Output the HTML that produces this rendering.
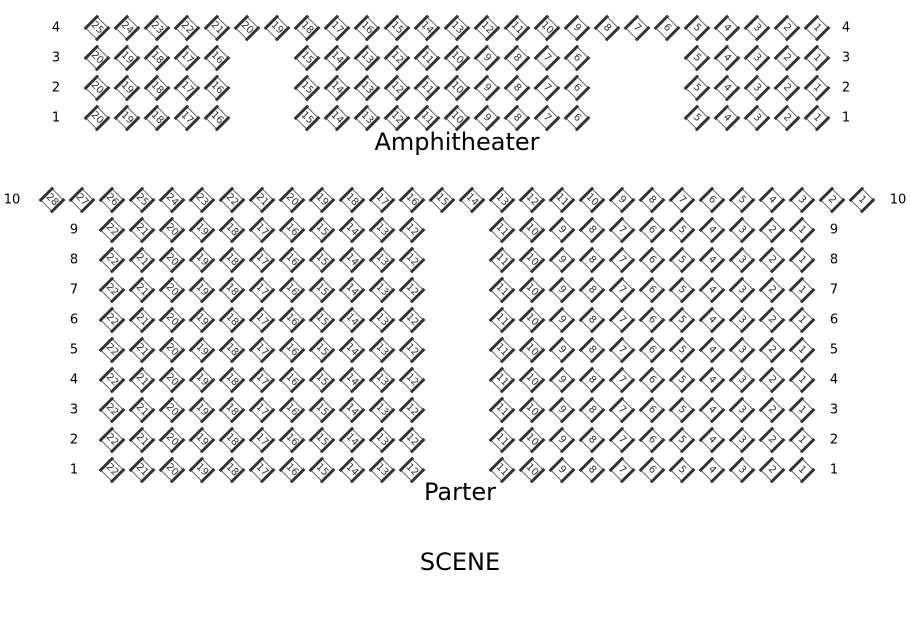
<!DOCTYPE html>
<html><head><meta charset="utf-8"><style>
body{margin:0;background:#fff}
svg{display:block;font-family:"DejaVu Sans","Liberation Sans",sans-serif}
.s text{font-size:10px;fill:#333;text-anchor:middle;dominant-baseline:central}
.l{font-size:13px;fill:#000;text-anchor:middle;dominant-baseline:central}
.t{font-size:24px;fill:#000;text-anchor:middle}
</style></head><body>
<svg width="910" height="640" viewBox="0 0 910 640" xmlns="http://www.w3.org/2000/svg">
<defs><g id="s"><rect x="-8" y="-8" width="16" height="16" fill="#fff" stroke="#444" stroke-width="0.8"/><line x1="-8" y1="-9.5" x2="-8" y2="9.5" stroke="#333" stroke-width="3"/><line x1="8" y1="-9.5" x2="8" y2="9.5" stroke="#333" stroke-width="3"/></g></defs>

<g class="l">
<text x="56" y="28">4</text><text x="56" y="58">3</text><text x="56" y="88">2</text><text x="56" y="118">1</text>
<text x="846" y="28">4</text><text x="846" y="58">3</text><text x="846" y="88">2</text><text x="846" y="118">1</text>
<text x="12" y="200">10</text><text x="898" y="200">10</text>
<text x="74" y="230">9</text><text x="74" y="260">8</text><text x="74" y="290">7</text><text x="74" y="320">6</text><text x="74" y="350">5</text><text x="74" y="380">4</text><text x="74" y="410">3</text><text x="74" y="440">2</text><text x="74" y="470">1</text>
<text x="834" y="230">9</text><text x="834" y="260">8</text><text x="834" y="290">7</text><text x="834" y="320">6</text><text x="834" y="350">5</text><text x="834" y="380">4</text><text x="834" y="410">3</text><text x="834" y="440">2</text><text x="834" y="470">1</text>
</g>

<text class="t" x="457" y="150">Amphitheater</text>
<text class="t" x="460" y="500">Parter</text>
<text class="t" x="460" y="570">SCENE</text>

<g class="s" transform="translate(0,28)">
<g transform="translate(817,0)rotate(45)"><use href="#s"/><text>1</text></g>
<g transform="translate(787,0)rotate(45)"><use href="#s"/><text>2</text></g>
<g transform="translate(757,0)rotate(45)"><use href="#s"/><text>3</text></g>
<g transform="translate(727,0)rotate(45)"><use href="#s"/><text>4</text></g>
<g transform="translate(697,0)rotate(45)"><use href="#s"/><text>5</text></g>
<g transform="translate(667,0)rotate(45)"><use href="#s"/><text>6</text></g>
<g transform="translate(637,0)rotate(45)"><use href="#s"/><text>7</text></g>
<g transform="translate(607,0)rotate(45)"><use href="#s"/><text>8</text></g>
<g transform="translate(577,0)rotate(45)"><use href="#s"/><text>9</text></g>
<g transform="translate(547,0)rotate(45)"><use href="#s"/><text>10</text></g>
<g transform="translate(517,0)rotate(45)"><use href="#s"/><text>11</text></g>
<g transform="translate(487,0)rotate(45)"><use href="#s"/><text>12</text></g>
<g transform="translate(457,0)rotate(45)"><use href="#s"/><text>13</text></g>
<g transform="translate(427,0)rotate(45)"><use href="#s"/><text>14</text></g>
<g transform="translate(397,0)rotate(45)"><use href="#s"/><text>15</text></g>
<g transform="translate(367,0)rotate(45)"><use href="#s"/><text>16</text></g>
<g transform="translate(337,0)rotate(45)"><use href="#s"/><text>17</text></g>
<g transform="translate(307,0)rotate(45)"><use href="#s"/><text>18</text></g>
<g transform="translate(277,0)rotate(45)"><use href="#s"/><text>19</text></g>
<g transform="translate(247,0)rotate(45)"><use href="#s"/><text>20</text></g>
<g transform="translate(217,0)rotate(45)"><use href="#s"/><text>21</text></g>
<g transform="translate(187,0)rotate(45)"><use href="#s"/><text>22</text></g>
<g transform="translate(157,0)rotate(45)"><use href="#s"/><text>23</text></g>
<g transform="translate(127,0)rotate(45)"><use href="#s"/><text>24</text></g>
<g transform="translate(97,0)rotate(45)"><use href="#s"/><text>25</text></g>
</g>

<g class="s" transform="translate(0,58)">
<g transform="translate(817,0)rotate(45)"><use href="#s"/><text>1</text></g>
<g transform="translate(787,0)rotate(45)"><use href="#s"/><text>2</text></g>
<g transform="translate(757,0)rotate(45)"><use href="#s"/><text>3</text></g>
<g transform="translate(727,0)rotate(45)"><use href="#s"/><text>4</text></g>
<g transform="translate(697,0)rotate(45)"><use href="#s"/><text>5</text></g>
<g transform="translate(577,0)rotate(45)"><use href="#s"/><text>6</text></g>
<g transform="translate(547,0)rotate(45)"><use href="#s"/><text>7</text></g>
<g transform="translate(517,0)rotate(45)"><use href="#s"/><text>8</text></g>
<g transform="translate(487,0)rotate(45)"><use href="#s"/><text>9</text></g>
<g transform="translate(457,0)rotate(45)"><use href="#s"/><text>10</text></g>
<g transform="translate(427,0)rotate(45)"><use href="#s"/><text>11</text></g>
<g transform="translate(397,0)rotate(45)"><use href="#s"/><text>12</text></g>
<g transform="translate(367,0)rotate(45)"><use href="#s"/><text>13</text></g>
<g transform="translate(337,0)rotate(45)"><use href="#s"/><text>14</text></g>
<g transform="translate(307,0)rotate(45)"><use href="#s"/><text>15</text></g>
<g transform="translate(217,0)rotate(45)"><use href="#s"/><text>16</text></g>
<g transform="translate(187,0)rotate(45)"><use href="#s"/><text>17</text></g>
<g transform="translate(157,0)rotate(45)"><use href="#s"/><text>18</text></g>
<g transform="translate(127,0)rotate(45)"><use href="#s"/><text>19</text></g>
<g transform="translate(97,0)rotate(45)"><use href="#s"/><text>20</text></g>
</g>
<g class="s" transform="translate(0,88)">
<g transform="translate(817,0)rotate(45)"><use href="#s"/><text>1</text></g>
<g transform="translate(787,0)rotate(45)"><use href="#s"/><text>2</text></g>
<g transform="translate(757,0)rotate(45)"><use href="#s"/><text>3</text></g>
<g transform="translate(727,0)rotate(45)"><use href="#s"/><text>4</text></g>
<g transform="translate(697,0)rotate(45)"><use href="#s"/><text>5</text></g>
<g transform="translate(577,0)rotate(45)"><use href="#s"/><text>6</text></g>
<g transform="translate(547,0)rotate(45)"><use href="#s"/><text>7</text></g>
<g transform="translate(517,0)rotate(45)"><use href="#s"/><text>8</text></g>
<g transform="translate(487,0)rotate(45)"><use href="#s"/><text>9</text></g>
<g transform="translate(457,0)rotate(45)"><use href="#s"/><text>10</text></g>
<g transform="translate(427,0)rotate(45)"><use href="#s"/><text>11</text></g>
<g transform="translate(397,0)rotate(45)"><use href="#s"/><text>12</text></g>
<g transform="translate(367,0)rotate(45)"><use href="#s"/><text>13</text></g>
<g transform="translate(337,0)rotate(45)"><use href="#s"/><text>14</text></g>
<g transform="translate(307,0)rotate(45)"><use href="#s"/><text>15</text></g>
<g transform="translate(217,0)rotate(45)"><use href="#s"/><text>16</text></g>
<g transform="translate(187,0)rotate(45)"><use href="#s"/><text>17</text></g>
<g transform="translate(157,0)rotate(45)"><use href="#s"/><text>18</text></g>
<g transform="translate(127,0)rotate(45)"><use href="#s"/><text>19</text></g>
<g transform="translate(97,0)rotate(45)"><use href="#s"/><text>20</text></g>
</g>
<g class="s" transform="translate(0,118)">
<g transform="translate(817,0)rotate(45)"><use href="#s"/><text>1</text></g>
<g transform="translate(787,0)rotate(45)"><use href="#s"/><text>2</text></g>
<g transform="translate(757,0)rotate(45)"><use href="#s"/><text>3</text></g>
<g transform="translate(727,0)rotate(45)"><use href="#s"/><text>4</text></g>
<g transform="translate(697,0)rotate(45)"><use href="#s"/><text>5</text></g>
<g transform="translate(577,0)rotate(45)"><use href="#s"/><text>6</text></g>
<g transform="translate(547,0)rotate(45)"><use href="#s"/><text>7</text></g>
<g transform="translate(517,0)rotate(45)"><use href="#s"/><text>8</text></g>
<g transform="translate(487,0)rotate(45)"><use href="#s"/><text>9</text></g>
<g transform="translate(457,0)rotate(45)"><use href="#s"/><text>10</text></g>
<g transform="translate(427,0)rotate(45)"><use href="#s"/><text>11</text></g>
<g transform="translate(397,0)rotate(45)"><use href="#s"/><text>12</text></g>
<g transform="translate(367,0)rotate(45)"><use href="#s"/><text>13</text></g>
<g transform="translate(337,0)rotate(45)"><use href="#s"/><text>14</text></g>
<g transform="translate(307,0)rotate(45)"><use href="#s"/><text>15</text></g>
<g transform="translate(217,0)rotate(45)"><use href="#s"/><text>16</text></g>
<g transform="translate(187,0)rotate(45)"><use href="#s"/><text>17</text></g>
<g transform="translate(157,0)rotate(45)"><use href="#s"/><text>18</text></g>
<g transform="translate(127,0)rotate(45)"><use href="#s"/><text>19</text></g>
<g transform="translate(97,0)rotate(45)"><use href="#s"/><text>20</text></g>
</g>

<g class="s" transform="translate(0,200)">
<g transform="translate(862,0)rotate(45)"><use href="#s"/><text>1</text></g>
<g transform="translate(832,0)rotate(45)"><use href="#s"/><text>2</text></g>
<g transform="translate(802,0)rotate(45)"><use href="#s"/><text>3</text></g>
<g transform="translate(772,0)rotate(45)"><use href="#s"/><text>4</text></g>
<g transform="translate(742,0)rotate(45)"><use href="#s"/><text>5</text></g>
<g transform="translate(712,0)rotate(45)"><use href="#s"/><text>6</text></g>
<g transform="translate(682,0)rotate(45)"><use href="#s"/><text>7</text></g>
<g transform="translate(652,0)rotate(45)"><use href="#s"/><text>8</text></g>
<g transform="translate(622,0)rotate(45)"><use href="#s"/><text>9</text></g>
<g transform="translate(592,0)rotate(45)"><use href="#s"/><text>10</text></g>
<g transform="translate(562,0)rotate(45)"><use href="#s"/><text>11</text></g>
<g transform="translate(532,0)rotate(45)"><use href="#s"/><text>12</text></g>
<g transform="translate(502,0)rotate(45)"><use href="#s"/><text>13</text></g>
<g transform="translate(472,0)rotate(45)"><use href="#s"/><text>14</text></g>
<g transform="translate(442,0)rotate(45)"><use href="#s"/><text>15</text></g>
<g transform="translate(412,0)rotate(45)"><use href="#s"/><text>16</text></g>
<g transform="translate(382,0)rotate(45)"><use href="#s"/><text>17</text></g>
<g transform="translate(352,0)rotate(45)"><use href="#s"/><text>18</text></g>
<g transform="translate(322,0)rotate(45)"><use href="#s"/><text>19</text></g>
<g transform="translate(292,0)rotate(45)"><use href="#s"/><text>20</text></g>
<g transform="translate(262,0)rotate(45)"><use href="#s"/><text>21</text></g>
<g transform="translate(232,0)rotate(45)"><use href="#s"/><text>22</text></g>
<g transform="translate(202,0)rotate(45)"><use href="#s"/><text>23</text></g>
<g transform="translate(172,0)rotate(45)"><use href="#s"/><text>24</text></g>
<g transform="translate(142,0)rotate(45)"><use href="#s"/><text>25</text></g>
<g transform="translate(112,0)rotate(45)"><use href="#s"/><text>26</text></g>
<g transform="translate(82,0)rotate(45)"><use href="#s"/><text>27</text></g>
<g transform="translate(52,0)rotate(45)"><use href="#s"/><text>28</text></g>
</g>

<g class="s" transform="translate(0,230)">
<g transform="translate(802,0)rotate(45)"><use href="#s"/><text>1</text></g>
<g transform="translate(772,0)rotate(45)"><use href="#s"/><text>2</text></g>
<g transform="translate(742,0)rotate(45)"><use href="#s"/><text>3</text></g>
<g transform="translate(712,0)rotate(45)"><use href="#s"/><text>4</text></g>
<g transform="translate(682,0)rotate(45)"><use href="#s"/><text>5</text></g>
<g transform="translate(652,0)rotate(45)"><use href="#s"/><text>6</text></g>
<g transform="translate(622,0)rotate(45)"><use href="#s"/><text>7</text></g>
<g transform="translate(592,0)rotate(45)"><use href="#s"/><text>8</text></g>
<g transform="translate(562,0)rotate(45)"><use href="#s"/><text>9</text></g>
<g transform="translate(532,0)rotate(45)"><use href="#s"/><text>10</text></g>
<g transform="translate(502,0)rotate(45)"><use href="#s"/><text>11</text></g>
<g transform="translate(412,0)rotate(45)"><use href="#s"/><text>12</text></g>
<g transform="translate(382,0)rotate(45)"><use href="#s"/><text>13</text></g>
<g transform="translate(352,0)rotate(45)"><use href="#s"/><text>14</text></g>
<g transform="translate(322,0)rotate(45)"><use href="#s"/><text>15</text></g>
<g transform="translate(292,0)rotate(45)"><use href="#s"/><text>16</text></g>
<g transform="translate(262,0)rotate(45)"><use href="#s"/><text>17</text></g>
<g transform="translate(232,0)rotate(45)"><use href="#s"/><text>18</text></g>
<g transform="translate(202,0)rotate(45)"><use href="#s"/><text>19</text></g>
<g transform="translate(172,0)rotate(45)"><use href="#s"/><text>20</text></g>
<g transform="translate(142,0)rotate(45)"><use href="#s"/><text>21</text></g>
<g transform="translate(112,0)rotate(45)"><use href="#s"/><text>22</text></g>
</g>
<g class="s" transform="translate(0,260)">
<g transform="translate(802,0)rotate(45)"><use href="#s"/><text>1</text></g>
<g transform="translate(772,0)rotate(45)"><use href="#s"/><text>2</text></g>
<g transform="translate(742,0)rotate(45)"><use href="#s"/><text>3</text></g>
<g transform="translate(712,0)rotate(45)"><use href="#s"/><text>4</text></g>
<g transform="translate(682,0)rotate(45)"><use href="#s"/><text>5</text></g>
<g transform="translate(652,0)rotate(45)"><use href="#s"/><text>6</text></g>
<g transform="translate(622,0)rotate(45)"><use href="#s"/><text>7</text></g>
<g transform="translate(592,0)rotate(45)"><use href="#s"/><text>8</text></g>
<g transform="translate(562,0)rotate(45)"><use href="#s"/><text>9</text></g>
<g transform="translate(532,0)rotate(45)"><use href="#s"/><text>10</text></g>
<g transform="translate(502,0)rotate(45)"><use href="#s"/><text>11</text></g>
<g transform="translate(412,0)rotate(45)"><use href="#s"/><text>12</text></g>
<g transform="translate(382,0)rotate(45)"><use href="#s"/><text>13</text></g>
<g transform="translate(352,0)rotate(45)"><use href="#s"/><text>14</text></g>
<g transform="translate(322,0)rotate(45)"><use href="#s"/><text>15</text></g>
<g transform="translate(292,0)rotate(45)"><use href="#s"/><text>16</text></g>
<g transform="translate(262,0)rotate(45)"><use href="#s"/><text>17</text></g>
<g transform="translate(232,0)rotate(45)"><use href="#s"/><text>18</text></g>
<g transform="translate(202,0)rotate(45)"><use href="#s"/><text>19</text></g>
<g transform="translate(172,0)rotate(45)"><use href="#s"/><text>20</text></g>
<g transform="translate(142,0)rotate(45)"><use href="#s"/><text>21</text></g>
<g transform="translate(112,0)rotate(45)"><use href="#s"/><text>22</text></g>
</g>
<g class="s" transform="translate(0,290)">
<g transform="translate(802,0)rotate(45)"><use href="#s"/><text>1</text></g>
<g transform="translate(772,0)rotate(45)"><use href="#s"/><text>2</text></g>
<g transform="translate(742,0)rotate(45)"><use href="#s"/><text>3</text></g>
<g transform="translate(712,0)rotate(45)"><use href="#s"/><text>4</text></g>
<g transform="translate(682,0)rotate(45)"><use href="#s"/><text>5</text></g>
<g transform="translate(652,0)rotate(45)"><use href="#s"/><text>6</text></g>
<g transform="translate(622,0)rotate(45)"><use href="#s"/><text>7</text></g>
<g transform="translate(592,0)rotate(45)"><use href="#s"/><text>8</text></g>
<g transform="translate(562,0)rotate(45)"><use href="#s"/><text>9</text></g>
<g transform="translate(532,0)rotate(45)"><use href="#s"/><text>10</text></g>
<g transform="translate(502,0)rotate(45)"><use href="#s"/><text>11</text></g>
<g transform="translate(412,0)rotate(45)"><use href="#s"/><text>12</text></g>
<g transform="translate(382,0)rotate(45)"><use href="#s"/><text>13</text></g>
<g transform="translate(352,0)rotate(45)"><use href="#s"/><text>14</text></g>
<g transform="translate(322,0)rotate(45)"><use href="#s"/><text>15</text></g>
<g transform="translate(292,0)rotate(45)"><use href="#s"/><text>16</text></g>
<g transform="translate(262,0)rotate(45)"><use href="#s"/><text>17</text></g>
<g transform="translate(232,0)rotate(45)"><use href="#s"/><text>18</text></g>
<g transform="translate(202,0)rotate(45)"><use href="#s"/><text>19</text></g>
<g transform="translate(172,0)rotate(45)"><use href="#s"/><text>20</text></g>
<g transform="translate(142,0)rotate(45)"><use href="#s"/><text>21</text></g>
<g transform="translate(112,0)rotate(45)"><use href="#s"/><text>22</text></g>
</g>
<g class="s" transform="translate(0,320)">
<g transform="translate(802,0)rotate(45)"><use href="#s"/><text>1</text></g>
<g transform="translate(772,0)rotate(45)"><use href="#s"/><text>2</text></g>
<g transform="translate(742,0)rotate(45)"><use href="#s"/><text>3</text></g>
<g transform="translate(712,0)rotate(45)"><use href="#s"/><text>4</text></g>
<g transform="translate(682,0)rotate(45)"><use href="#s"/><text>5</text></g>
<g transform="translate(652,0)rotate(45)"><use href="#s"/><text>6</text></g>
<g transform="translate(622,0)rotate(45)"><use href="#s"/><text>7</text></g>
<g transform="translate(592,0)rotate(45)"><use href="#s"/><text>8</text></g>
<g transform="translate(562,0)rotate(45)"><use href="#s"/><text>9</text></g>
<g transform="translate(532,0)rotate(45)"><use href="#s"/><text>10</text></g>
<g transform="translate(502,0)rotate(45)"><use href="#s"/><text>11</text></g>
<g transform="translate(412,0)rotate(45)"><use href="#s"/><text>12</text></g>
<g transform="translate(382,0)rotate(45)"><use href="#s"/><text>13</text></g>
<g transform="translate(352,0)rotate(45)"><use href="#s"/><text>14</text></g>
<g transform="translate(322,0)rotate(45)"><use href="#s"/><text>15</text></g>
<g transform="translate(292,0)rotate(45)"><use href="#s"/><text>16</text></g>
<g transform="translate(262,0)rotate(45)"><use href="#s"/><text>17</text></g>
<g transform="translate(232,0)rotate(45)"><use href="#s"/><text>18</text></g>
<g transform="translate(202,0)rotate(45)"><use href="#s"/><text>19</text></g>
<g transform="translate(172,0)rotate(45)"><use href="#s"/><text>20</text></g>
<g transform="translate(142,0)rotate(45)"><use href="#s"/><text>21</text></g>
<g transform="translate(112,0)rotate(45)"><use href="#s"/><text>22</text></g>
</g>
<g class="s" transform="translate(0,350)">
<g transform="translate(802,0)rotate(45)"><use href="#s"/><text>1</text></g>
<g transform="translate(772,0)rotate(45)"><use href="#s"/><text>2</text></g>
<g transform="translate(742,0)rotate(45)"><use href="#s"/><text>3</text></g>
<g transform="translate(712,0)rotate(45)"><use href="#s"/><text>4</text></g>
<g transform="translate(682,0)rotate(45)"><use href="#s"/><text>5</text></g>
<g transform="translate(652,0)rotate(45)"><use href="#s"/><text>6</text></g>
<g transform="translate(622,0)rotate(45)"><use href="#s"/><text>7</text></g>
<g transform="translate(592,0)rotate(45)"><use href="#s"/><text>8</text></g>
<g transform="translate(562,0)rotate(45)"><use href="#s"/><text>9</text></g>
<g transform="translate(532,0)rotate(45)"><use href="#s"/><text>10</text></g>
<g transform="translate(502,0)rotate(45)"><use href="#s"/><text>11</text></g>
<g transform="translate(412,0)rotate(45)"><use href="#s"/><text>12</text></g>
<g transform="translate(382,0)rotate(45)"><use href="#s"/><text>13</text></g>
<g transform="translate(352,0)rotate(45)"><use href="#s"/><text>14</text></g>
<g transform="translate(322,0)rotate(45)"><use href="#s"/><text>15</text></g>
<g transform="translate(292,0)rotate(45)"><use href="#s"/><text>16</text></g>
<g transform="translate(262,0)rotate(45)"><use href="#s"/><text>17</text></g>
<g transform="translate(232,0)rotate(45)"><use href="#s"/><text>18</text></g>
<g transform="translate(202,0)rotate(45)"><use href="#s"/><text>19</text></g>
<g transform="translate(172,0)rotate(45)"><use href="#s"/><text>20</text></g>
<g transform="translate(142,0)rotate(45)"><use href="#s"/><text>21</text></g>
<g transform="translate(112,0)rotate(45)"><use href="#s"/><text>22</text></g>
</g>
<g class="s" transform="translate(0,380)">
<g transform="translate(802,0)rotate(45)"><use href="#s"/><text>1</text></g>
<g transform="translate(772,0)rotate(45)"><use href="#s"/><text>2</text></g>
<g transform="translate(742,0)rotate(45)"><use href="#s"/><text>3</text></g>
<g transform="translate(712,0)rotate(45)"><use href="#s"/><text>4</text></g>
<g transform="translate(682,0)rotate(45)"><use href="#s"/><text>5</text></g>
<g transform="translate(652,0)rotate(45)"><use href="#s"/><text>6</text></g>
<g transform="translate(622,0)rotate(45)"><use href="#s"/><text>7</text></g>
<g transform="translate(592,0)rotate(45)"><use href="#s"/><text>8</text></g>
<g transform="translate(562,0)rotate(45)"><use href="#s"/><text>9</text></g>
<g transform="translate(532,0)rotate(45)"><use href="#s"/><text>10</text></g>
<g transform="translate(502,0)rotate(45)"><use href="#s"/><text>11</text></g>
<g transform="translate(412,0)rotate(45)"><use href="#s"/><text>12</text></g>
<g transform="translate(382,0)rotate(45)"><use href="#s"/><text>13</text></g>
<g transform="translate(352,0)rotate(45)"><use href="#s"/><text>14</text></g>
<g transform="translate(322,0)rotate(45)"><use href="#s"/><text>15</text></g>
<g transform="translate(292,0)rotate(45)"><use href="#s"/><text>16</text></g>
<g transform="translate(262,0)rotate(45)"><use href="#s"/><text>17</text></g>
<g transform="translate(232,0)rotate(45)"><use href="#s"/><text>18</text></g>
<g transform="translate(202,0)rotate(45)"><use href="#s"/><text>19</text></g>
<g transform="translate(172,0)rotate(45)"><use href="#s"/><text>20</text></g>
<g transform="translate(142,0)rotate(45)"><use href="#s"/><text>21</text></g>
<g transform="translate(112,0)rotate(45)"><use href="#s"/><text>22</text></g>
</g>
<g class="s" transform="translate(0,410)">
<g transform="translate(802,0)rotate(45)"><use href="#s"/><text>1</text></g>
<g transform="translate(772,0)rotate(45)"><use href="#s"/><text>2</text></g>
<g transform="translate(742,0)rotate(45)"><use href="#s"/><text>3</text></g>
<g transform="translate(712,0)rotate(45)"><use href="#s"/><text>4</text></g>
<g transform="translate(682,0)rotate(45)"><use href="#s"/><text>5</text></g>
<g transform="translate(652,0)rotate(45)"><use href="#s"/><text>6</text></g>
<g transform="translate(622,0)rotate(45)"><use href="#s"/><text>7</text></g>
<g transform="translate(592,0)rotate(45)"><use href="#s"/><text>8</text></g>
<g transform="translate(562,0)rotate(45)"><use href="#s"/><text>9</text></g>
<g transform="translate(532,0)rotate(45)"><use href="#s"/><text>10</text></g>
<g transform="translate(502,0)rotate(45)"><use href="#s"/><text>11</text></g>
<g transform="translate(412,0)rotate(45)"><use href="#s"/><text>12</text></g>
<g transform="translate(382,0)rotate(45)"><use href="#s"/><text>13</text></g>
<g transform="translate(352,0)rotate(45)"><use href="#s"/><text>14</text></g>
<g transform="translate(322,0)rotate(45)"><use href="#s"/><text>15</text></g>
<g transform="translate(292,0)rotate(45)"><use href="#s"/><text>16</text></g>
<g transform="translate(262,0)rotate(45)"><use href="#s"/><text>17</text></g>
<g transform="translate(232,0)rotate(45)"><use href="#s"/><text>18</text></g>
<g transform="translate(202,0)rotate(45)"><use href="#s"/><text>19</text></g>
<g transform="translate(172,0)rotate(45)"><use href="#s"/><text>20</text></g>
<g transform="translate(142,0)rotate(45)"><use href="#s"/><text>21</text></g>
<g transform="translate(112,0)rotate(45)"><use href="#s"/><text>22</text></g>
</g>
<g class="s" transform="translate(0,440)">
<g transform="translate(802,0)rotate(45)"><use href="#s"/><text>1</text></g>
<g transform="translate(772,0)rotate(45)"><use href="#s"/><text>2</text></g>
<g transform="translate(742,0)rotate(45)"><use href="#s"/><text>3</text></g>
<g transform="translate(712,0)rotate(45)"><use href="#s"/><text>4</text></g>
<g transform="translate(682,0)rotate(45)"><use href="#s"/><text>5</text></g>
<g transform="translate(652,0)rotate(45)"><use href="#s"/><text>6</text></g>
<g transform="translate(622,0)rotate(45)"><use href="#s"/><text>7</text></g>
<g transform="translate(592,0)rotate(45)"><use href="#s"/><text>8</text></g>
<g transform="translate(562,0)rotate(45)"><use href="#s"/><text>9</text></g>
<g transform="translate(532,0)rotate(45)"><use href="#s"/><text>10</text></g>
<g transform="translate(502,0)rotate(45)"><use href="#s"/><text>11</text></g>
<g transform="translate(412,0)rotate(45)"><use href="#s"/><text>12</text></g>
<g transform="translate(382,0)rotate(45)"><use href="#s"/><text>13</text></g>
<g transform="translate(352,0)rotate(45)"><use href="#s"/><text>14</text></g>
<g transform="translate(322,0)rotate(45)"><use href="#s"/><text>15</text></g>
<g transform="translate(292,0)rotate(45)"><use href="#s"/><text>16</text></g>
<g transform="translate(262,0)rotate(45)"><use href="#s"/><text>17</text></g>
<g transform="translate(232,0)rotate(45)"><use href="#s"/><text>18</text></g>
<g transform="translate(202,0)rotate(45)"><use href="#s"/><text>19</text></g>
<g transform="translate(172,0)rotate(45)"><use href="#s"/><text>20</text></g>
<g transform="translate(142,0)rotate(45)"><use href="#s"/><text>21</text></g>
<g transform="translate(112,0)rotate(45)"><use href="#s"/><text>22</text></g>
</g>
<g class="s" transform="translate(0,470)">
<g transform="translate(802,0)rotate(45)"><use href="#s"/><text>1</text></g>
<g transform="translate(772,0)rotate(45)"><use href="#s"/><text>2</text></g>
<g transform="translate(742,0)rotate(45)"><use href="#s"/><text>3</text></g>
<g transform="translate(712,0)rotate(45)"><use href="#s"/><text>4</text></g>
<g transform="translate(682,0)rotate(45)"><use href="#s"/><text>5</text></g>
<g transform="translate(652,0)rotate(45)"><use href="#s"/><text>6</text></g>
<g transform="translate(622,0)rotate(45)"><use href="#s"/><text>7</text></g>
<g transform="translate(592,0)rotate(45)"><use href="#s"/><text>8</text></g>
<g transform="translate(562,0)rotate(45)"><use href="#s"/><text>9</text></g>
<g transform="translate(532,0)rotate(45)"><use href="#s"/><text>10</text></g>
<g transform="translate(502,0)rotate(45)"><use href="#s"/><text>11</text></g>
<g transform="translate(412,0)rotate(45)"><use href="#s"/><text>12</text></g>
<g transform="translate(382,0)rotate(45)"><use href="#s"/><text>13</text></g>
<g transform="translate(352,0)rotate(45)"><use href="#s"/><text>14</text></g>
<g transform="translate(322,0)rotate(45)"><use href="#s"/><text>15</text></g>
<g transform="translate(292,0)rotate(45)"><use href="#s"/><text>16</text></g>
<g transform="translate(262,0)rotate(45)"><use href="#s"/><text>17</text></g>
<g transform="translate(232,0)rotate(45)"><use href="#s"/><text>18</text></g>
<g transform="translate(202,0)rotate(45)"><use href="#s"/><text>19</text></g>
<g transform="translate(172,0)rotate(45)"><use href="#s"/><text>20</text></g>
<g transform="translate(142,0)rotate(45)"><use href="#s"/><text>21</text></g>
<g transform="translate(112,0)rotate(45)"><use href="#s"/><text>22</text></g>
</g>
</svg>
</body></html>
